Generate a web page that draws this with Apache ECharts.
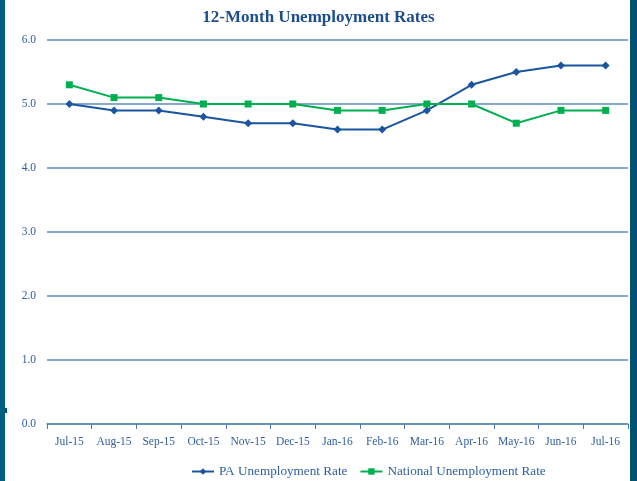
<!DOCTYPE html>
<html>
<head>
<meta charset="utf-8">
<script src="https://cdn.jsdelivr.net/npm/echarts@6/dist/echarts.min.js"></script>
<style>
  html, body { margin: 0; padding: 0; background: #fff; }
  #chart { width: 637px; height: 481px; }
</style>
</head>
<body>
<div id="chart"></div>
<script>
const months = ['Jul-15', 'Aug-15', 'Sep-15', 'Oct-15', 'Nov-15', 'Dec-15', 'Jan-16', 'Feb-16', 'Mar-16', 'Apr-16', 'May-16', 'Jun-16', 'Jul-16']
const paRate = [5.0, 4.9, 4.9, 4.8, 4.7, 4.7, 4.6, 4.6, 4.9, 5.3, 5.5, 5.6, 5.6]
const nationalRate = [5.3, 5.1, 5.1, 5.0, 5.0, 5.0, 4.9, 4.9, 5.0, 5.0, 4.7, 4.9, 4.9]

const serif = '"Liberation Serif", "DejaVu Serif", serif'
const textBlue = '#2f5f9c'
const lineBlue = '#5f8dc0'

const chart = echarts.init(document.getElementById('chart'))
chart.setOption({
    animation: false,
    title: {
        text: '12-Month Unemployment Rates',
        left: 'center',
        top: 4,
        textStyle: { fontFamily: serif, fontSize: 17, fontWeight: 'bold', color: '#1f4e8c' }
    },
    // teal frame on both sides
    graphic: [
        { type: 'rect', shape: { x: 0, y: 0, width: 5, height: 481 }, style: { fill: '#00607f' } },
        { type: 'rect', shape: { x: 630, y: 0, width: 7, height: 481 }, style: { fill: '#00506f' } },
        { type: 'rect', shape: { x: 5, y: 408, width: 2, height: 5 }, style: { fill: '#00506f' } }
    ],
    legend: {
        top: 460,
        left: 186,
        itemWidth: 22,
        itemHeight: 8,
        itemGap: 12,
        textStyle: { fontFamily: serif, fontSize: 13.2, color: textBlue },
        data: ['PA Unemployment Rate', 'National Unemployment Rate']
    },
    grid: { left: 47, right: 9, top: 40, bottom: 57, containLabel: false },
    xAxis: {
        type: 'category',
        data: months,
        boundaryGap: true,
        axisLine: { lineStyle: { color: lineBlue, width: 1.5 } },
        axisTick: { show: true, length: 5, lineStyle: { color: '#4a78ad' } },
        axisLabel: { interval: 0, fontFamily: serif, fontSize: 11.5, color: textBlue, margin: 12 }
    },
    yAxis: {
        type: 'value',
        min: 0,
        max: 6,
        interval: 1,
        axisLine: { show: false },
        axisTick: { show: false },
        axisLabel: { fontFamily: serif, fontSize: 11.5, color: textBlue, margin: 11, formatter: v => v.toFixed(1) },
        splitLine: { lineStyle: { color: lineBlue, width: 1.5 } }
    },
    series: [
        {
            name: 'PA Unemployment Rate',
            type: 'line',
            data: paRate,
            symbol: 'diamond',
            symbolSize: 8,
            lineStyle: { color: '#1a55a0', width: 2 },
            itemStyle: { color: '#1a55a0' }
        },
        {
            name: 'National Unemployment Rate',
            type: 'line',
            data: nationalRate,
            symbol: 'rect',
            symbolSize: 7,
            lineStyle: { color: '#00b050', width: 2 },
            itemStyle: { color: '#00b050' }
        }
    ]
})
</script>
</body>
</html>
